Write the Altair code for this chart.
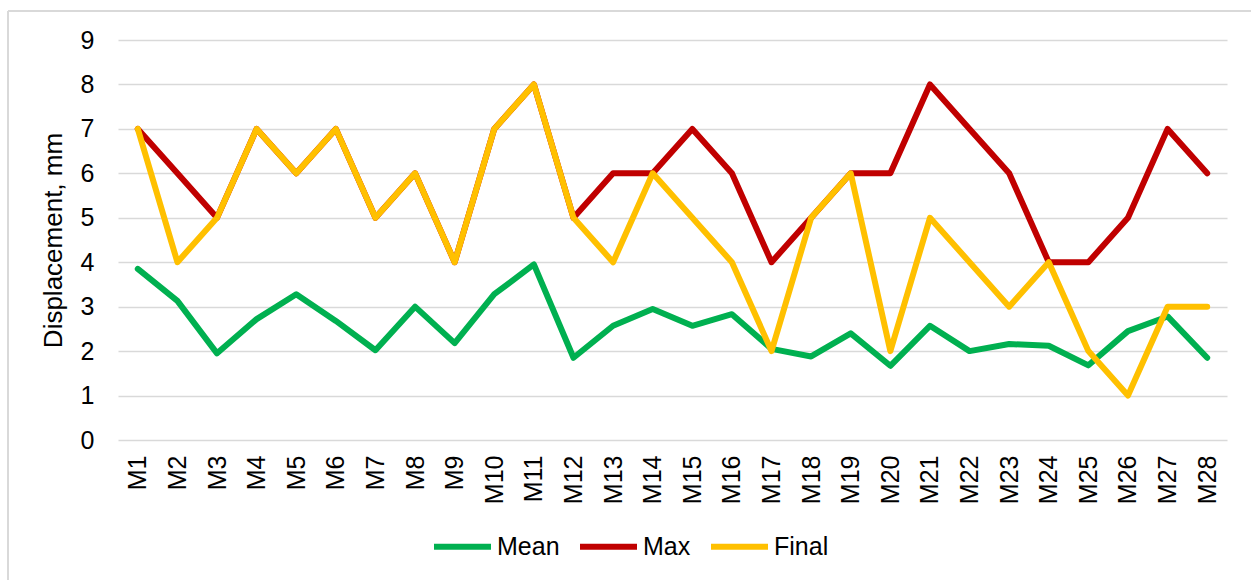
import altair as alt
import pandas as pd

models = [f"M{i}" for i in range(1, 29)]
mean_vals = [3.85, 3.13, 1.95, 2.72, 3.28, 2.68, 2.02, 3.0, 2.18, 3.28, 3.95, 1.85, 2.57, 2.95,
             2.57, 2.83, 2.05, 1.88, 2.4, 1.67, 2.57, 2.0, 2.16, 2.12, 1.68, 2.45, 2.78, 1.85]
max_vals = [7, 6, 5, 7, 6, 7, 5, 6, 4, 7, 8, 5, 6, 6, 7, 6, 4, 5, 6, 6, 8, 7, 6, 4, 4, 5, 7, 6]
final_vals = [7, 4, 5, 7, 6, 7, 5, 6, 4, 7, 8, 5, 4, 6, 5, 4, 2, 5, 6, 2, 5, 4, 3, 4, 2, 1, 3, 3]

series_names = ["Mean", "Max", "Final"]
series_colors = ["#00B050", "#C00000", "#FFC000"]

rows = []
for name, vals in zip(series_names, [mean_vals, max_vals, final_vals]):
    for m, v in zip(models, vals):
        rows.append({"model": m, "series": name, "value": v})
df = pd.DataFrame(rows)

W, H = 1109, 400

x_enc = alt.X("model:N", sort=models, scale=alt.Scale(type="point", padding=0.5),
              axis=alt.Axis(title=None, labelAngle=270, labelAlign="right", labelBaseline="middle",
                            labelFontSize=25, labelPadding=15, domain=False, ticks=False, grid=False,
                            labelColor="#000000"))
y_enc = alt.Y("value:Q", scale=alt.Scale(domain=[0, 9], nice=False),
              axis=alt.Axis(title="Displacement, mm", values=list(range(10)), labelFontSize=25,
                            labelPadding=24, domain=False, ticks=False, grid=True,
                            gridColor="#d9d9d9", gridWidth=1.5, titleFontSize=26,
                            titleFontWeight="normal", titlePadding=14, titleColor="#000000",
                            labelColor="#000000"))
color_enc = alt.Color("series:N", scale=alt.Scale(domain=series_names, range=series_colors),
                      legend=alt.Legend(title=None, orient="none", legendX=313, legendY=475,
                                        direction="horizontal", symbolType="stroke",
                                        symbolSize=3249, symbolStrokeWidth=6, labelFontSize=25,
                                        labelOffset=3, columnPadding=8, labelColor="#000000"))

layers = []
for name in series_names:
    layers.append(
        alt.Chart(df).transform_filter(alt.datum.series == name)
        .mark_line(strokeWidth=6, strokeCap="round", strokeJoin="round")
        .encode(x=x_enc, y=y_enc, color=color_enc)
    )

border_top = alt.Chart(df).mark_rule(color="#d9d9d9", strokeWidth=1.5).encode(
    x=alt.value(-110), x2=alt.value(1133), y=alt.value(-29))
border_left = alt.Chart(df).mark_rule(color="#d9d9d9", strokeWidth=1.5).encode(
    x=alt.value(-110), y=alt.value(-29), y2=alt.value(540))

chart = alt.layer(border_top, border_left, *layers).properties(
    width=W, height=H,
    padding={"left": 7, "top": 10, "right": 0, "bottom": 0}
).configure(font="Liberation Sans").configure_view(stroke=None)

chart.save("out.html", embed_options={"renderer": "svg", "actions": False})
